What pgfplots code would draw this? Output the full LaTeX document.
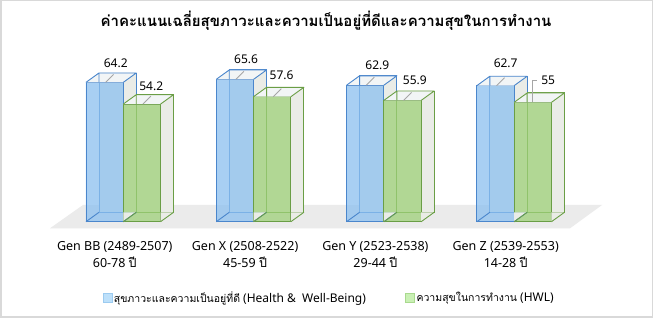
\documentclass[border=0pt]{standalone}
\usepackage{fontspec}
\usepackage{pgfplots}
\usepackage{pgfplotstable}
\pgfplotsset{compat=1.18}
\setmainfont{Noto Sans}
\newfontfamily\thai[Script=Thai]{Loma}

\definecolor{bluefront}{HTML}{8CC0F0}
\definecolor{blueedge}{HTML}{4A86CC}
\definecolor{greenfront}{HTML}{9ED079}
\definecolor{greenedge}{HTML}{6A9E45}
\definecolor{sidefill}{HTML}{EAECE7}
\definecolor{topfill}{HTML}{F2F5F6}
\definecolor{floorgray}{HTML}{EBEBEB}
\definecolor{framegray}{HTML}{D9D9D9}
\definecolor{leadergray}{HTML}{A6A6A6}
\definecolor{legblue}{HTML}{BDE0FA}
\definecolor{legblueedge}{HTML}{9CCBF0}
\definecolor{leggreen}{HTML}{C9F0B4}
\definecolor{leggreenedge}{HTML}{A9D98E}

\pgfplotstableread{
x y lx ly
0 64.2 -7.5 19
1 65.6 -7.5 20
2 62.9 -6.5 20
3 62.7 -8.5 22
}\hwb
\pgfplotstableread{
x y lx ly
0 54.2 28 18
1 57.6 28 21
2 55.9 31 20
3 55 34 22
}\hwl

% top face of a 3D bar, drawn at the top centre of the group (fixed geometry)
\newcommand\topface[2]{%
  \pgfmathsetmacro\txl{#1-18.65}\pgfmathsetmacro\txr{#1+18.65}%
  \pgfmathsetmacro\txlb{#1-18.65+13}\pgfmathsetmacro\txrb{#1+18.65+13}%
  \pgfsetfillcolor{topfill}%
  \pgfpathmoveto{\pgfpoint{\txl pt}{0pt}}%
  \pgfpathlineto{\pgfpoint{\txlb pt}{9.4pt}}%
  \pgfpathlineto{\pgfpoint{\txrb pt}{9.4pt}}%
  \pgfpathlineto{\pgfpoint{\txr pt}{0pt}}%
  \pgfpathclose
  \pgfusepath{fill}%
  \pgfsetstrokecolor{#2}\pgfsetlinewidth{0.9pt}\pgfsetroundjoin
  \pgfpathmoveto{\pgfpoint{\txl pt}{0pt}}%
  \pgfpathlineto{\pgfpoint{\txlb pt}{9.4pt}}%
  \pgfpathlineto{\pgfpoint{\txrb pt}{9.4pt}}%
  \pgfpathlineto{\pgfpoint{\txr pt}{0pt}}%
  \pgfpathmoveto{\pgfpoint{\txlb pt}{9.4pt}}%
  \pgfpathlineto{\pgfpoint{\txlb pt}{0pt}}%
  \pgfusepath{stroke}%
}
% bottom connectors at the baseline
\newcommand\bottomface[2]{%
  \pgfmathsetmacro\txl{#1-18.65}\pgfmathsetmacro\txr{#1+18.65}%
  \pgfmathsetmacro\txlb{#1-18.65+13}\pgfmathsetmacro\txrb{#1+18.65+13}%
  \pgfsetfillcolor{sidefill}%
  \pgfpathmoveto{\pgfpoint{\txr pt}{0pt}}%
  \pgfpathlineto{\pgfpoint{\txrb pt}{9.4pt}}%
  \pgfpathlineto{\pgfpoint{\txr pt}{9.4pt}}%
  \pgfpathclose
  \pgfusepath{fill}%
  \pgfsetstrokecolor{#2}\pgfsetlinewidth{0.9pt}\pgfsetroundjoin
  \pgfpathmoveto{\pgfpoint{\txl pt}{0pt}}%
  \pgfpathlineto{\pgfpoint{\txlb pt}{9.4pt}}%
  \pgfpathmoveto{\pgfpoint{\txr pt}{0pt}}%
  \pgfpathlineto{\pgfpoint{\txrb pt}{9.4pt}}%
  \pgfusepath{stroke}%
}
\newcommand\leaddiag[1]{%
  \pgfsetstrokecolor{leadergray}\pgfsetlinewidth{0.9pt}%
  \pgfpathmoveto{\pgfpoint{#1pt+1pt}{0pt}}%
  \pgfpathlineto{\pgfpoint{#1pt+9pt}{8pt}}%
  \pgfusepath{stroke}%
}
\newcommand\leadelbow[1]{%
  \pgfsetstrokecolor{leadergray}\pgfsetlinewidth{0.9pt}%
  \pgfpathmoveto{\pgfpoint{#1pt}{0.5pt}}%
  \pgfpathlineto{\pgfpoint{#1pt}{21.5pt}}%
  \pgfpathlineto{\pgfpoint{#1pt+4.5pt}{21.5pt}}%
  \pgfusepath{stroke}%
}
\pgfdeclareplotmark{topblue}{\topface{-18.65}{blueedge}}
\pgfdeclareplotmark{topgreen}{\topface{18.65}{greenedge}}
\pgfdeclareplotmark{botblue}{\bottomface{-18.65}{blueedge}}
\pgfdeclareplotmark{botgreen}{\bottomface{18.65}{greenedge}}
\pgfdeclareplotmark{leadblue}{\leaddiag{-18.65}}
\pgfdeclareplotmark{leadgreen}{\leaddiag{18.65}}
\pgfdeclareplotmark{leadgreenelbow}{\leadelbow{18.65}}

\pgfplotsset{
  frame3d/.style={only marks, forget plot, mark=#1},
  vlabels/.style={only marks, forget plot, mark=#1,
    visualization depends on={\thisrow{lx} \as \lx},
    visualization depends on={\thisrow{ly} \as \ly},
    point meta=explicit,
    nodes near coords,
    nodes near coords style={anchor=center, inner sep=0pt, text=black,
      font=\fontsize{12}{14}\selectfont, xshift=\lx pt, yshift=\ly pt}},
  hidden/.style={
    x=130.3pt, y=2.17pt, xmin=-0.9, xmax=3.9, ymin=0, ymax=100,
    clip=false, anchor=south west},
}

\begin{document}
\begin{tikzpicture}[x=1pt,y=1pt]
\useasboundingbox (0,0) rectangle (653,318);
\fill[white] (0,0) rectangle (653,318);
\draw[framegray, line width=1.5pt] (0.75,0.75) rectangle (652.25,317.25);
% floor
\fill[floorgray] (50,89.7) -- (570,89.7) -- (602,113) -- (83,113) -- cycle;
% back faces of the bars
\begin{axis}[hidden, hide axis, at={(19pt,105.7pt)}]
\addplot[ybar, bar width=37.3pt, bar shift=-18.65pt, draw=blueedge,
  line width=0.9pt, fill=sidefill] table[x=x,y=y]{\hwb};
\addplot[ybar, bar width=37.3pt, bar shift=18.65pt, draw=greenedge,
  line width=0.9pt, fill=sidefill] table[x=x,y=y]{\hwl};
\end{axis}
% front
\begin{axis}[
  hidden, at={(6pt,96.3pt)},
  /pgf/number format/assume math mode=true,
  axis line style={draw=none},
  ytick=\empty,
  xtick={0,1,2,3},
  major tick length=0pt,
  xticklabels={
    {Gen BB (2489-2507)\\60-78 {\thai ปี}},
    {Gen X (2508-2522)\\45-59 {\thai ปี}},
    {Gen Y (2523-2538)\\29-44 {\thai ปี}},
    {Gen Z (2539-2553)\\14-28 {\thai ปี}}},
  xticklabel style={align=center, anchor=north, inner sep=0pt,
    font=\fontsize{12.5}{16.6}\selectfont, xshift=-8.5pt, yshift=-20pt},
  title={\thai\bfseries ค่าคะแนนเฉลี่ยสุขภาวะและความเป็นอยู่ที่ดีและความสุขในการทำงาน},
  title style={at={(0.5117,0.8995)}, anchor=center, inner sep=0pt,
    font=\fontsize{15}{18}\selectfont},
  legend columns=2,
  legend style={at={(0.5165,-0.3516)}, anchor=center, draw=none, fill=none,
    font=\fontsize{12}{14}\selectfont,
    /tikz/every even column/.append style={column sep=38pt},
    nodes={inner sep=1.5pt}},
]
\addlegendimage{legend image code/.code={\draw[fill=legblue,draw=legblueedge,line width=0.6pt] (0pt,-4.5pt) rectangle (9pt,4.5pt);}}
\addlegendentry{{\thai\fontsize{10.5}{14}\selectfont สุขภาวะและความเป็นอยู่ที่ดี} (Health \&\ \ Well-Being)}
\addlegendimage{legend image code/.code={\draw[fill=leggreen,draw=leggreenedge,line width=0.6pt] (0pt,-4.5pt) rectangle (9pt,4.5pt);}}
\addlegendentry{{\thai\fontsize{10.5}{14}\selectfont ความสุขในการทำงาน} (HWL)}

% blue series
\addplot[frame3d=botblue] coordinates {(0,0) (1,0) (2,0) (3,0)};
\addplot[frame3d=topblue] table[x=x,y=y]{\hwb};
\addplot[ybar, forget plot, bar width=37.3pt, bar shift=-18.65pt, draw=blueedge,
  line width=0.9pt, fill=bluefront, fill opacity=0.75] table[x=x,y=y]{\hwb};
% green series
\addplot[frame3d=botgreen] coordinates {(0,0) (1,0) (2,0) (3,0)};
\addplot[frame3d=topgreen] table[x=x,y=y]{\hwl};
\addplot[ybar, forget plot, bar width=37.3pt, bar shift=18.65pt, draw=greenedge,
  line width=0.9pt, fill=greenfront, fill opacity=0.75] table[x=x,y=y]{\hwl};
% value labels and leader lines
\addplot[vlabels=leadblue] table[x=x,y=y,meta=y]{\hwb};
\addplot[vlabels=leadgreen, restrict x to domain=0:2] table[x=x,y=y,meta=y]{\hwl};
\addplot[vlabels=leadgreenelbow, restrict x to domain=3:3] table[x=x,y=y,meta=y]{\hwl};
\end{axis}
\end{tikzpicture}
\end{document}
